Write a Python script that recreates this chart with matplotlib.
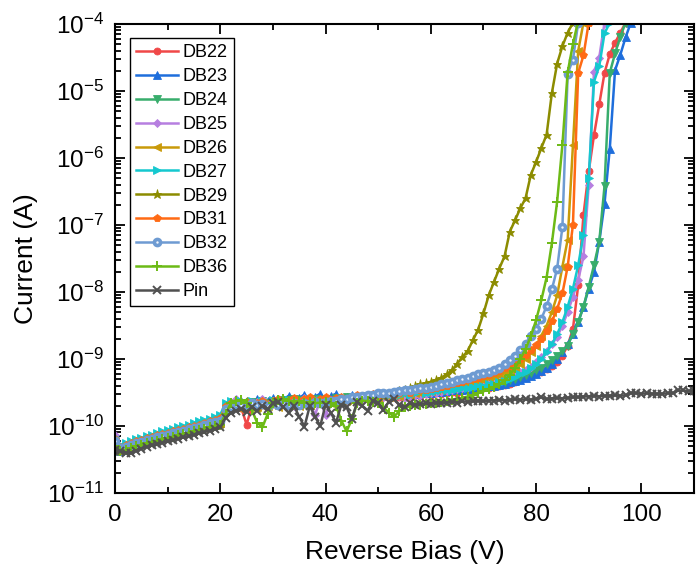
import numpy as np
import matplotlib
matplotlib.use("Agg")
import matplotlib.pyplot as plt
from matplotlib.ticker import FixedLocator, MultipleLocator, LogFormatterSciNotation

plt.rcParams['font.family'] = ['Liberation Sans', 'DejaVu Sans']
plt.rcParams['mathtext.fontset'] = 'custom'
plt.rcParams['mathtext.rm'] = 'Liberation Sans'

# log10 of the measured current (A), one value per volt starting at 0 V
log_db22 = [
    -10.25, -10.36, -10.34, -10.31, -10.28, -10.26, -10.24, -10.21, -10.19, -10.17,
    -10.15, -10.13, -10.11, -10.09, -10.07, -10.05, -10.03, -10.01, -9.99, -9.97,
    -9.95, -9.74, -9.70, -9.68, -9.73, -9.98, -9.70, -9.66, -9.69, -9.64,
    -9.67, -9.65, -9.62, -9.66, -9.63, -9.67, -9.62, -9.65, -9.63, -9.60,
    -9.64, -9.61, -9.63, -9.59, -9.62, -9.60, -9.58, -9.61, -9.59, -9.57,
    -9.59, -9.56, -9.58, -9.55, -9.57, -9.54, -9.56, -9.53, -9.55, -9.52,
    -9.53, -9.51, -9.52, -9.50, -9.49, -9.50, -9.48, -9.47, -9.46, -9.45,
    -9.44, -9.43, -9.42, -9.40, -9.39, -9.37, -9.35, -9.32, -9.29, -9.26,
    -9.23, -9.19, -9.15, -9.10, -9.04, -8.95, -8.80, -8.55, -7.90, -6.85,
    -6.20, -5.66, -5.20, -4.73, -4.45, -4.28, -4.13, -3.98]
log_db23 = [
    -10.28, -10.37, -10.34, -10.31, -10.29, -10.26, -10.24, -10.22, -10.20, -10.18,
    -10.16, -10.14, -10.12, -10.10, -10.08, -10.06, -10.04, -10.02, -10.00, -9.98,
    -9.96, -9.76, -9.69, -9.66, -9.62, -9.67, -9.64, -9.60, -9.66, -9.62,
    -9.58, -9.64, -9.60, -9.55, -9.63, -9.58, -9.53, -9.62, -9.56, -9.52,
    -9.60, -9.55, -9.52, -9.60, -9.56, -9.54, -9.58, -9.55, -9.57, -9.54,
    -9.56, -9.53, -9.55, -9.52, -9.54, -9.51, -9.53, -9.52, -9.50, -9.51,
    -9.50, -9.49, -9.49, -9.48, -9.47, -9.47, -9.46, -9.45, -9.44, -9.43,
    -9.42, -9.41, -9.40, -9.39, -9.37, -9.35, -9.33, -9.31, -9.28, -9.25,
    -9.22, -9.18, -9.13, -9.07, -9.00, -8.90, -8.78, -8.63, -8.45, -8.22,
    -7.95, -7.70, -7.25, -6.68, -5.86, -4.69, -4.46, -4.20, -3.98]
log_db24 = [
    -10.24, -10.34, -10.32, -10.29, -10.26, -10.24, -10.21, -10.19, -10.17, -10.15,
    -10.13, -10.11, -10.09, -10.07, -10.05, -10.03, -10.01, -9.99, -9.97, -9.95,
    -9.93, -9.73, -9.68, -9.70, -9.65, -9.68, -9.64, -9.67, -9.63, -9.66,
    -9.62, -9.65, -9.61, -9.64, -9.60, -9.63, -9.61, -9.64, -9.60, -9.62,
    -9.59, -9.62, -9.58, -9.61, -9.57, -9.60, -9.56, -9.58, -9.55, -9.57,
    -9.54, -9.56, -9.53, -9.55, -9.52, -9.54, -9.51, -9.53, -9.50, -9.51,
    -9.50, -9.49, -9.48, -9.47, -9.46, -9.45, -9.44, -9.43, -9.42, -9.41,
    -9.40, -9.39, -9.37, -9.36, -9.34, -9.32, -9.30, -9.27, -9.24, -9.21,
    -9.17, -9.13, -9.08, -9.02, -8.95, -8.88, -8.80, -8.62, -8.45, -8.22,
    -7.92, -7.60, -7.25, -6.42, -4.73, -4.44, -4.19, -3.98]
log_db25 = [
    -10.13, -10.38, -10.36, -10.33, -10.30, -10.28, -10.25, -10.23, -10.21, -10.19,
    -10.17, -10.15, -10.13, -10.11, -10.09, -10.07, -10.05, -10.03, -10.01, -9.99,
    -9.97, -9.78, -9.72, -9.60, -9.66, -9.62, -9.70, -9.64, -9.60, -9.68,
    -9.63, -9.59, -9.66, -9.62, -9.70, -9.63, -9.58, -9.67, -9.83, -9.62,
    -9.84, -9.63, -9.60, -9.66, -9.62, -9.60, -9.64, -9.61, -9.59, -9.62,
    -9.59, -9.57, -9.60, -9.57, -9.55, -9.58, -9.55, -9.53, -9.55, -9.52,
    -9.51, -9.50, -9.49, -9.48, -9.46, -9.45, -9.44, -9.42, -9.40, -9.38,
    -9.36, -9.34, -9.32, -9.30, -9.28, -9.25, -9.22, -9.19, -9.16, -9.12,
    -9.05, -8.97, -8.88, -8.78, -8.67, -8.50, -8.30, -8.07, -7.82, -7.47,
    -6.40, -4.71, -4.50, -3.98]
log_db26 = [
    -10.27, -10.36, -10.34, -10.31, -10.28, -10.25, -10.23, -10.21, -10.19, -10.17,
    -10.15, -10.13, -10.11, -10.09, -10.07, -10.05, -10.03, -10.01, -9.99, -9.97,
    -9.95, -9.72, -9.66, -9.70, -9.74, -9.66, -9.69, -9.72, -9.65, -9.70,
    -9.67, -9.71, -9.64, -9.69, -9.66, -9.70, -9.63, -9.68, -9.66, -9.62,
    -9.66, -9.63, -9.60, -9.64, -9.61, -9.59, -9.62, -9.58, -9.60, -9.57,
    -9.58, -9.55, -9.57, -9.54, -9.55, -9.52, -9.53, -9.51, -9.50, -9.49,
    -9.48, -9.47, -9.46, -9.44, -9.43, -9.41, -9.39, -9.37, -9.35, -9.33,
    -9.31, -9.29, -9.27, -9.24, -9.21, -9.18, -9.13, -9.07, -9.00, -8.90,
    -8.80, -8.65, -8.50, -8.30, -8.05, -7.62, -7.22, -5.81, -4.40, -3.98]
log_db27 = [
    -10.16, -10.28, -10.26, -10.23, -10.20, -10.18, -10.15, -10.13, -10.10, -10.08,
    -10.06, -10.04, -10.02, -10.00, -9.98, -9.96, -9.93, -9.91, -9.89, -9.86,
    -9.83, -9.66, -9.63, -9.67, -9.62, -9.66, -9.63, -9.68, -9.62, -9.65,
    -9.61, -9.64, -9.66, -9.61, -9.65, -9.62, -9.66, -9.60, -9.64, -9.61,
    -9.63, -9.59, -9.62, -9.58, -9.61, -9.59, -9.56, -9.60, -9.57, -9.55,
    -9.58, -9.55, -9.53, -9.56, -9.54, -9.51, -9.53, -9.50, -9.48, -9.50,
    -9.49, -9.48, -9.47, -9.47, -9.46, -9.45, -9.44, -9.43, -9.42, -9.41,
    -9.40, -9.38, -9.37, -9.35, -9.33, -9.30, -9.27, -9.23, -9.19, -9.14,
    -9.08, -9.00, -8.90, -8.78, -8.63, -8.45, -8.22, -7.95, -7.60, -7.15,
    -6.30, -4.86, -4.63, -4.14, -3.98]
log_db29 = [
    -10.28, -10.38, -10.36, -10.33, -10.30, -10.27, -10.25, -10.23, -10.21, -10.19,
    -10.17, -10.15, -10.13, -10.11, -10.09, -10.07, -10.05, -10.03, -10.01, -9.99,
    -9.97, -9.74, -9.69, -9.66, -9.71, -9.64, -9.68, -9.73, -9.66, -9.70,
    -9.65, -9.69, -9.63, -9.67, -9.70, -9.64, -9.68, -9.62, -9.66, -9.63,
    -9.61, -9.65, -9.62, -9.59, -9.63, -9.60, -9.58, -9.56, -9.58, -9.55,
    -9.53, -9.55, -9.52, -9.50, -9.48, -9.46, -9.44, -9.41, -9.38, -9.36,
    -9.34, -9.31, -9.28, -9.23, -9.17, -9.07, -8.97, -8.88, -8.72, -8.56,
    -8.32, -8.05, -7.85, -7.65, -7.47, -7.10, -6.93, -6.75, -6.60, -6.25,
    -6.06, -5.85, -5.65, -5.03, -4.59, -4.33, -4.13, -3.98]
log_db31 = [
    -10.20, -10.31, -10.29, -10.26, -10.23, -10.21, -10.18, -10.16, -10.14, -10.12,
    -10.10, -10.08, -10.06, -10.04, -10.02, -10.00, -9.98, -9.96, -9.93, -9.91,
    -9.88, -9.70, -9.66, -9.72, -9.68, -9.64, -9.70, -9.66, -9.62, -9.67,
    -9.63, -9.60, -9.65, -9.61, -9.58, -9.63, -9.60, -9.57, -9.62, -9.59,
    -9.57, -9.61, -9.58, -9.56, -9.59, -9.56, -9.54, -9.57, -9.54, -9.52,
    -9.55, -9.52, -9.50, -9.53, -9.50, -9.48, -9.50, -9.47, -9.46, -9.47,
    -9.45, -9.44, -9.42, -9.40, -9.38, -9.36, -9.34, -9.32, -9.30, -9.28,
    -9.26, -9.24, -9.21, -9.18, -9.14, -9.10, -9.05, -9.00, -8.94, -8.87,
    -8.79, -8.70, -8.58, -8.44, -8.25, -8.02, -7.62, -7.00, -4.73, -4.47,
    -3.98]
log_db32 = [
    -10.22, -10.33, -10.31, -10.29, -10.26, -10.24, -10.21, -10.19, -10.17, -10.15,
    -10.13, -10.11, -10.09, -10.07, -10.05, -10.03, -10.01, -9.99, -9.96, -9.94,
    -9.92, -9.75, -9.71, -9.69, -9.68, -9.70, -9.66, -9.69, -9.67, -9.70,
    -9.66, -9.68, -9.65, -9.68, -9.66, -9.69, -9.65, -9.67, -9.64, -9.66,
    -9.64, -9.62, -9.63, -9.60, -9.59, -9.57, -9.56, -9.55, -9.54, -9.53,
    -9.51, -9.51, -9.50, -9.49, -9.48, -9.47, -9.46, -9.45, -9.44, -9.43,
    -9.42, -9.40, -9.38, -9.36, -9.34, -9.32, -9.30, -9.28, -9.26, -9.23,
    -9.21, -9.19, -9.17, -9.14, -9.08, -9.02, -8.95, -8.87, -8.77, -8.66,
    -8.55, -8.40, -8.21, -7.96, -7.65, -7.03, -4.74, -4.53, -3.98]
log_db36 = [
    -10.30, -10.38, -10.36, -10.33, -10.30, -10.28, -10.26, -10.24, -10.22, -10.20,
    -10.18, -10.16, -10.14, -10.12, -10.10, -10.08, -10.06, -10.04, -10.02, -10.00,
    -9.98, -9.82, -9.66, -9.62, -9.61, -9.65, -9.76, -9.95, -10.02, -9.82,
    -9.66, -9.61, -9.60, -9.62, -9.64, -9.63, -9.65, -9.64, -9.66, -9.65,
    -9.64, -9.66, -9.70, -9.92, -10.08, -9.90, -9.66, -9.62, -9.63, -9.64,
    -9.66, -9.72, -9.80, -9.86, -9.78, -9.72, -9.70, -9.69, -9.68, -9.67,
    -9.66, -9.65, -9.64, -9.62, -9.61, -9.60, -9.58, -9.56, -9.54, -9.51,
    -9.48, -9.45, -9.42, -9.38, -9.32, -9.24, -9.13, -9.00, -8.85, -8.66,
    -8.42, -8.12, -7.78, -7.27, -6.65, -5.80, -4.72, -4.30, -3.95]
log_pin = [
    -10.36, -10.38, -10.40, -10.41, -10.37, -10.34, -10.31, -10.29, -10.27, -10.25,
    -10.23, -10.21, -10.19, -10.17, -10.15, -10.13, -10.11, -10.09, -10.07, -10.05,
    -10.02, -9.88, -9.80, -9.77, -9.74, -9.79, -9.72, -9.77, -9.70, -9.75,
    -9.66, -9.64, -9.72, -9.80, -9.70, -9.86, -10.01, -9.70, -9.86, -10.00,
    -9.68, -9.80, -9.95, -9.68, -9.72, -9.90, -9.64, -9.70, -9.77, -9.62,
    -9.66, -9.76, -9.64, -9.60, -9.68, -9.72, -9.66, -9.68, -9.67, -9.66,
    -9.67, -9.65, -9.66, -9.65, -9.64, -9.65, -9.63, -9.64, -9.63, -9.62,
    -9.63, -9.62, -9.62, -9.61, -9.62, -9.61, -9.60, -9.61, -9.60, -9.61,
    -9.59, -9.57, -9.60, -9.59, -9.58, -9.59, -9.58, -9.57, -9.57, -9.56,
    -9.56, -9.55, -9.56, -9.55, -9.55, -9.54, -9.55, -9.54, -9.51, -9.51,
    -9.52, -9.51, -9.52, -9.52, -9.52, -9.51, -9.51, -9.47, -9.47, -9.48,
    -9.48]

labels = ["DB22", "DB23", "DB24", "DB25", "DB26", "DB27", "DB29", "DB31",
          "DB32", "DB36", "Pin"]
series = [log_db22, log_db23, log_db24, log_db25, log_db26, log_db27,
          log_db29, log_db31, log_db32, log_db36, log_pin]
colors = ["#F04848", "#1E6EDC", "#38AD6C", "#B67FE0", "#C99A0A", "#14C8CF",
          "#8C8C00", "#FF6A14", "#6E9BD2", "#6CBA16", "#505050"]
markers = ["o", "^", "v", "D", "<", ">", "*", "p", "o", "+", "x"]
msizes = [5, 5.5, 5.5, 4.5, 5.5, 5.5, 6.5, 5.5, 4.4, 6.5, 5.5]

x_ticks = [0, 20, 40, 60, 80, 100]
y_decades = [1e-11, 1e-10, 1e-9, 1e-8, 1e-7, 1e-6, 1e-5, 1e-4]

fig = plt.figure(figsize=(6.96, 5.68), dpi=100)
ax = fig.add_axes([115 / 696, 75 / 568, 579 / 696, 469 / 568])

for lab, logi, col, mk, ms in zip(labels, series, colors, markers, msizes):
    v = np.arange(len(logi))
    cur = 10.0 ** np.asarray(logi)
    if mk in ("+", "x"):
        mew, mfc = 1.4, col
    elif lab == "DB32":
        # filled circle with a small pale centre
        mew, mfc = 2.6, "#F2F6FC"
    else:
        mew, mfc = 0.6, col
    ax.plot(v, cur, color=col, lw=1.8, marker=mk, ms=ms,
            mec=col, mfc=mfc, mew=mew, label=lab)

ax.set_yscale("log")
ax.set_xlim(0, 110)
ax.set_ylim(1e-11, 1e-4)

ax.xaxis.set_major_locator(FixedLocator(x_ticks))
ax.xaxis.set_minor_locator(MultipleLocator(10))
ax.yaxis.set_major_locator(FixedLocator(y_decades))
minor_y = [m * d for d in y_decades[:-1] for m in range(2, 10)]
ax.yaxis.set_minor_locator(FixedLocator(minor_y))
ax.yaxis.set_major_formatter(LogFormatterSciNotation())

ax.tick_params(which="both", direction="in", top=True, right=True,
               labelsize=17.5, width=1.3)
ax.tick_params(which="major", length=7, pad=8)
ax.tick_params(which="minor", length=4)
for sp in ax.spines.values():
    sp.set_linewidth(1.5)

ax.set_xlabel("Reverse Bias (V)", fontsize=19, labelpad=10)
ax.set_ylabel("Current (A)", fontsize=19, labelpad=6)

leg = ax.legend(loc="upper left",
                bbox_to_anchor=(0.026, 0.97), borderaxespad=0,
                fontsize=13, frameon=True, fancybox=False,
                edgecolor="black", framealpha=1, handlelength=2.3,
                handletextpad=0.25, labelspacing=0.38, borderpad=0.35)
leg.get_frame().set_linewidth(1.0)

fig.savefig("out.png", dpi=100)
